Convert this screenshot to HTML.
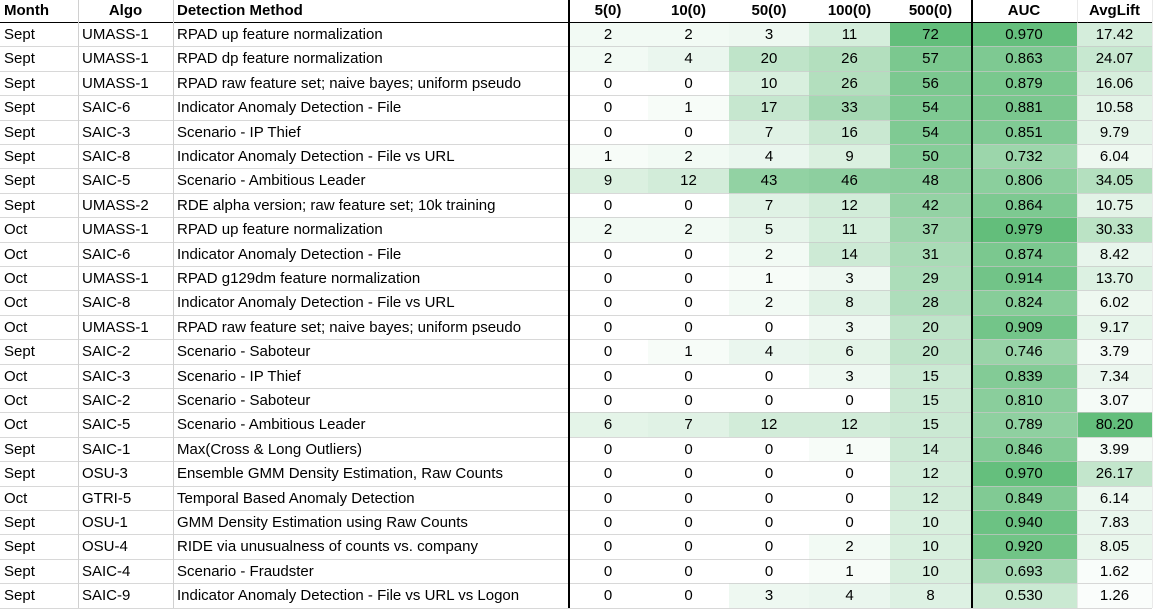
<!DOCTYPE html>
<html><head><meta charset="utf-8">
<style>
html,body{margin:0;padding:0;background:#fff;}
#t{position:relative;width:1155px;height:614px;overflow:hidden;font-family:"Liberation Sans",Arial,sans-serif;font-size:15px;color:#000;}
.c{position:absolute;box-sizing:border-box;white-space:nowrap;overflow:hidden;line-height:24px;}
.h{font-weight:bold;}
.l{position:absolute;}
</style></head>
<body>
<div id="t"></div>
<script>
const months=["Sept","Sept","Sept","Sept","Sept","Sept","Sept","Sept","Oct","Oct","Oct","Oct","Oct","Sept","Oct","Oct","Oct","Sept","Sept","Oct","Sept","Sept","Sept","Sept"];
const algos=["UMASS-1","UMASS-1","UMASS-1","SAIC-6","SAIC-3","SAIC-8","SAIC-5","UMASS-2","UMASS-1","SAIC-6","UMASS-1","SAIC-8","UMASS-1","SAIC-2","SAIC-3","SAIC-2","SAIC-5","SAIC-1","OSU-3","GTRI-5","OSU-1","OSU-4","SAIC-4","SAIC-9"];
const methods=["RPAD up feature normalization","RPAD dp feature normalization","RPAD raw feature set; naive bayes; uniform pseudo","Indicator Anomaly Detection - File","Scenario - IP Thief","Indicator Anomaly Detection - File vs URL","Scenario - Ambitious Leader","RDE alpha version; raw feature set; 10k training","RPAD up feature normalization","Indicator Anomaly Detection - File","RPAD g129dm feature normalization","Indicator Anomaly Detection - File vs URL","RPAD raw feature set; naive bayes; uniform pseudo","Scenario - Saboteur","Scenario - IP Thief","Scenario - Saboteur","Scenario - Ambitious Leader","Max(Cross & Long Outliers)","Ensemble GMM Density Estimation, Raw Counts","Temporal Based Anomaly Detection","GMM Density Estimation using Raw Counts","RIDE via unusualness of counts vs. company","Scenario - Fraudster","Indicator Anomaly Detection - File vs URL vs Logon"];
const c5=[2,2,0,0,0,1,9,0,2,0,0,0,0,0,0,0,6,0,0,0,0,0,0,0];
const c10=[2,4,0,1,0,2,12,0,2,0,0,0,0,1,0,0,7,0,0,0,0,0,0,0];
const c50=[3,20,10,17,7,4,43,7,5,2,1,2,0,4,0,0,12,0,0,0,0,0,0,3];
const c100=[11,26,26,33,16,9,46,12,11,14,3,8,3,6,3,0,12,1,0,0,0,2,1,4];
const c500=[72,57,56,54,54,50,48,42,37,31,29,28,20,20,15,15,15,14,12,12,10,10,10,8];
const auc=[0.970,0.863,0.879,0.881,0.851,0.732,0.806,0.864,0.979,0.874,0.914,0.824,0.909,0.746,0.839,0.810,0.789,0.846,0.970,0.849,0.940,0.920,0.693,0.530];
const lift=[17.42,24.07,16.06,10.58,9.79,6.04,34.05,10.75,30.33,8.42,13.70,6.02,9.17,3.79,7.34,3.07,80.20,3.99,26.17,6.14,7.83,8.05,1.62,1.26];

const T=document.getElementById('t');
const HH=22, RH=24.4;
const cols=[
 {k:'month',x:0,w:78,head:'Month',al:'left'},
 {k:'algo',x:78,w:95,head:'Algo',al:'left',hal:'center'},
 {k:'method',x:173,w:395,head:'Detection Method',al:'left'},
 {k:'c5',x:568,w:80,head:'5(0)',al:'center'},
 {k:'c10',x:648,w:81,head:'10(0)',al:'center'},
 {k:'c50',x:729,w:80,head:'50(0)',al:'center'},
 {k:'c100',x:809,w:81,head:'100(0)',al:'center'},
 {k:'c500',x:890,w:81,head:'500(0)',al:'center'},
 {k:'auc',x:971,w:106,head:'AUC',al:'center'},
 {k:'lift',x:1077,w:75,head:'AvgLift',al:'center'}
];
function green(t){t=Math.max(0,Math.min(1,t));
 const r=Math.round(255+(99-255)*t),g=Math.round(255+(190-255)*t),b=Math.round(255+(123-255)*t);
 return `rgb(${r},${g},${b})`;}
function cnt(v){return green(Math.pow(v/72,0.7));}
function aucScale(v){return green((v-0.3)/(0.979-0.3));}
function liftScale(v){return green(Math.pow(v/80.2,0.85));}
const data={month:months,algo:algos,method:methods,c5,c10,c50,c100,c500,auc,lift};
cols.forEach(c=>{
 const d=document.createElement('div');
 d.className='c h';
 
 
 d.style.left=c.x+'px';d.style.top='0px';d.style.width=c.w+'px';d.style.height=HH+'px';d.style.lineHeight=HH+'px';
 d.style.textAlign=c.hal||c.al;d.style.padding='0 4px';
 d.textContent=c.head;T.appendChild(d);
});
for(let i=0;i<months.length;i++){
 const y=HH+i*RH;
 cols.forEach(c=>{
  const v=data[c.k][i];
  const d=document.createElement('div');
  d.className='c';
  
  
  d.style.left=c.x+'px';d.style.top=y+'px';d.style.width=c.w+'px';d.style.height=RH+'px';d.style.lineHeight=(RH+1)+'px';
  d.style.textAlign=c.al;d.style.padding=c.al==='left'?'0 4px':'0';
  let txt=v;
  if(['c5','c10','c50','c100','c500'].includes(c.k)){d.style.background=cnt(v);}
  else if(c.k==='auc'){d.style.background=aucScale(v);txt=v.toFixed(3);}
  else if(c.k==='lift'){d.style.background=liftScale(v);txt=v.toFixed(2);}
  d.textContent=txt;T.appendChild(d);
 });
}
for(let i=0;i<=months.length;i++){
 const l=document.createElement('div');l.className='l';
 
 
 const y=Math.round(HH+i*RH);
 l.style.left='0px';l.style.top=y+'px';l.style.width='1152px';l.style.height='1px';
 l.style.background=i===0?'#000':'rgba(200,200,200,0.7)';
 T.appendChild(l);
}
[[78,'#d0d0d0'],[173,'#d0d0d0'],[568,'#000'],[971,'#000'],[1077,'rgba(220,220,220,0.6)'],[1152,'rgba(220,220,220,0.6)']].forEach(([x,col])=>{
 const l=document.createElement('div');l.className='l';
 
 
 l.style.left=x+'px';l.style.top='0px';l.style.width=(col==='#000'?2:1)+'px';l.style.height='608px';l.style.background=col;
 T.appendChild(l);
});
</script>
</body></html>
